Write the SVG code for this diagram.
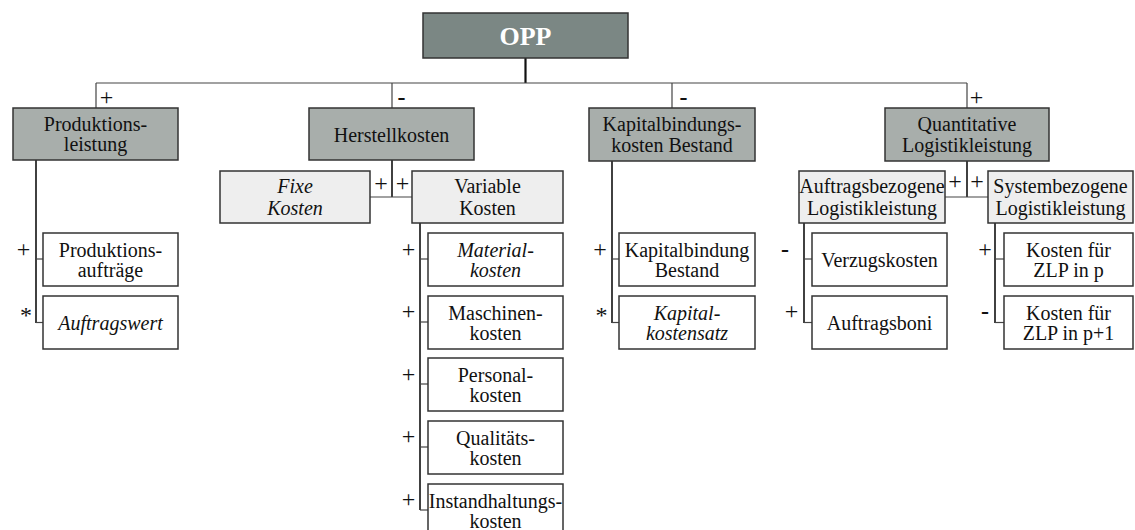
<svg xmlns="http://www.w3.org/2000/svg" width="1135" height="530" viewBox="0 0 1135 530">
  <style>
    text { font-family: "Liberation Serif", "Times New Roman", serif; font-size: 20px; fill: #111; text-anchor: middle; }
    .it { font-style: italic; }
    .root { fill: #7b8784; stroke: #333; stroke-width: 1.5; }
    .l1 { fill: #a8aeab; stroke: #333; stroke-width: 1.5; }
    .l2 { fill: #eeeeee; stroke: #333; stroke-width: 1.5; }
    .leaf { fill: #ffffff; stroke: #333; stroke-width: 1.5; }
    .title { font-size: 26px; font-weight: bold; fill: #ffffff; }
    .stem { stroke: #111; stroke-width: 1.6; fill: none; }
    .br { stroke: #444; stroke-width: 1.2; fill: none; }
    .sg { font-size: 24px; }
    .mn { font-size: 24px; font-weight: bold; }
  </style>

  <!-- connectors -->
  <g id="connectors">
    <line class="stem" x1="525.5" y1="58" x2="525.5" y2="83" style="stroke-width:2.2"/>
    <line class="br" x1="96" y1="83" x2="967" y2="83"/>
    <line class="br" x1="96" y1="83" x2="96" y2="108"/>
    <line class="br" x1="392" y1="83" x2="392" y2="108"/>
    <line class="br" x1="672" y1="83" x2="672" y2="108"/>
    <line class="br" x1="967" y1="83" x2="967" y2="108"/>

    <!-- Produktionsleistung -->
    <line class="stem" x1="36" y1="160" x2="36" y2="323"/>
    <line class="br" x1="36" y1="259" x2="43" y2="259"/>
    <line class="br" x1="36" y1="322.5" x2="43" y2="322.5"/>

    <!-- Herstellkosten -->
    <line class="stem" x1="392" y1="160" x2="392" y2="197"/>
    <line class="br" x1="370" y1="197" x2="412" y2="197"/>

    <!-- Variable Kosten -->
    <line class="stem" x1="420" y1="223" x2="420" y2="510"/>
    <line class="br" x1="420" y1="259" x2="428" y2="259"/>
    <line class="br" x1="420" y1="322" x2="428" y2="322"/>
    <line class="br" x1="420" y1="384" x2="428" y2="384"/>
    <line class="br" x1="420" y1="447" x2="428" y2="447"/>
    <line class="br" x1="420" y1="510" x2="428" y2="510"/>

    <!-- Kapitalbindungskosten -->
    <line class="stem" x1="612" y1="161" x2="612" y2="323"/>
    <line class="br" x1="612" y1="259" x2="619" y2="259"/>
    <line class="br" x1="612" y1="322.5" x2="619" y2="322.5"/>

    <!-- Quantitative Logistikleistung -->
    <line class="stem" x1="967" y1="161" x2="967" y2="197"/>
    <line class="br" x1="945" y1="197" x2="988" y2="197"/>

    <!-- Auftragsbezogene -->
    <line class="stem" x1="804" y1="223" x2="804" y2="323"/>
    <line class="br" x1="804" y1="259" x2="812" y2="259"/>
    <line class="br" x1="804" y1="322.5" x2="812" y2="322.5"/>

    <!-- Systembezogene -->
    <line class="stem" x1="995" y1="223" x2="995" y2="323"/>
    <line class="br" x1="995" y1="259" x2="1004" y2="259"/>
    <line class="br" x1="995" y1="322.5" x2="1004" y2="322.5"/>

    <!-- signs -->
    <text class="sg" x="106.5" y="105">+</text>
    <text class="mn" x="401.5" y="105">-</text>
    <text class="mn" x="683.5" y="105">-</text>
    <text class="sg" x="976.5" y="105">+</text>

    <text class="sg" x="381" y="191">+</text>
    <text class="sg" x="402.5" y="191">+</text>
    <text class="sg" x="955" y="189">+</text>
    <text class="sg" x="977" y="189">+</text>

    <text class="sg" x="23.5" y="257">+</text>
    <text class="sg" x="26" y="323">*</text>

    <text class="sg" x="408.5" y="257">+</text>
    <text class="sg" x="408.5" y="319">+</text>
    <text class="sg" x="408.5" y="382">+</text>
    <text class="sg" x="408.5" y="444">+</text>
    <text class="sg" x="408.5" y="507">+</text>

    <text class="sg" x="600" y="257">+</text>
    <text class="sg" x="601.5" y="323">*</text>

    <text class="mn" x="785" y="257">-</text>
    <text class="sg" x="791.5" y="319">+</text>

    <text class="sg" x="985" y="257">+</text>
    <text class="mn" x="985" y="319">-</text>
  </g>

  <g id="opp">
    <rect class="root" x="423" y="13" width="205" height="45"/>
    <text class="title" x="525.5" y="45">OPP</text>
  </g>

  <g id="produktionsleistung">
    <rect class="l1" x="13" y="108" width="165" height="52"/>
    <text x="95.5" y="131">Produktions-</text>
    <text x="95.5" y="151">leistung</text>
  </g>
  <g id="herstellkosten">
    <rect class="l1" x="309" y="108" width="165" height="52"/>
    <text x="391.5" y="142">Herstellkosten</text>
  </g>
  <g id="kapitalbindungskosten">
    <rect class="l1" x="589" y="108" width="166" height="53"/>
    <text x="672" y="131">Kapitalbindungs-</text>
    <text x="672" y="152">kosten Bestand</text>
  </g>
  <g id="quantitative">
    <rect class="l1" x="885" y="108" width="164" height="53"/>
    <text x="967" y="131">Quantitative</text>
    <text x="967" y="152">Logistikleistung</text>
  </g>

  <g id="fixe-kosten">
    <rect class="l2" x="220" y="171" width="150" height="52"/>
    <text class="it" x="295" y="193">Fixe</text>
    <text class="it" x="295" y="215">Kosten</text>
  </g>
  <g id="variable-kosten">
    <rect class="l2" x="412" y="171" width="151" height="52"/>
    <text x="487.5" y="193">Variable</text>
    <text x="487.5" y="215">Kosten</text>
  </g>
  <g id="auftragsbezogene">
    <rect class="l2" x="799" y="171" width="146" height="52"/>
    <text x="872" y="193">Auftragsbezogene</text>
    <text x="872" y="215">Logistikleistung</text>
  </g>
  <g id="systembezogene">
    <rect class="l2" x="988" y="171" width="145" height="52"/>
    <text x="1060.5" y="193">Systembezogene</text>
    <text x="1060.5" y="215">Logistikleistung</text>
  </g>

  <g id="produktionsauftraege">
    <rect class="leaf" x="43" y="233" width="135" height="53"/>
    <text x="110.5" y="257">Produktions-</text>
    <text x="110.5" y="277">aufträge</text>
  </g>
  <g id="auftragswert">
    <rect class="leaf" x="43" y="296" width="135" height="53"/>
    <text class="it" x="110.5" y="330">Auftragswert</text>
  </g>

  <g id="materialkosten">
    <rect class="leaf" x="428" y="233" width="135" height="53"/>
    <text class="it" x="495.5" y="257">Material-</text>
    <text class="it" x="495.5" y="277">kosten</text>
  </g>
  <g id="maschinenkosten">
    <rect class="leaf" x="428" y="296" width="135" height="53"/>
    <text x="495.5" y="320">Maschinen-</text>
    <text x="495.5" y="340">kosten</text>
  </g>
  <g id="personalkosten">
    <rect class="leaf" x="428" y="358" width="135" height="53"/>
    <text x="495.5" y="382">Personal-</text>
    <text x="495.5" y="402">kosten</text>
  </g>
  <g id="qualitaetskosten">
    <rect class="leaf" x="428" y="421" width="135" height="53"/>
    <text x="495.5" y="445">Qualitäts-</text>
    <text x="495.5" y="465">kosten</text>
  </g>
  <g id="instandhaltungskosten">
    <rect class="leaf" x="428" y="484" width="135" height="53"/>
    <text x="495.5" y="508">Instandhaltungs-</text>
    <text x="495.5" y="528">kosten</text>
  </g>

  <g id="kapitalbindung-bestand">
    <rect class="leaf" x="619" y="233" width="136" height="53"/>
    <text x="687" y="257">Kapitalbindung</text>
    <text x="687" y="277">Bestand</text>
  </g>
  <g id="kapitalkostensatz">
    <rect class="leaf" x="619" y="296" width="136" height="53"/>
    <text class="it" x="687" y="320">Kapital-</text>
    <text class="it" x="687" y="340">kostensatz</text>
  </g>

  <g id="verzugskosten">
    <rect class="leaf" x="812" y="233" width="135" height="53"/>
    <text x="879.5" y="267">Verzugskosten</text>
  </g>
  <g id="auftragsboni">
    <rect class="leaf" x="812" y="296" width="135" height="53"/>
    <text x="879.5" y="330">Auftragsboni</text>
  </g>

  <g id="zlp-p">
    <rect class="leaf" x="1004" y="233" width="129" height="53"/>
    <text x="1068.5" y="257">Kosten für</text>
    <text x="1068.5" y="277">ZLP in p</text>
  </g>
  <g id="zlp-p1">
    <rect class="leaf" x="1004" y="296" width="129" height="53"/>
    <text x="1068.5" y="320">Kosten für</text>
    <text x="1068.5" y="340">ZLP in p+1</text>
  </g>
</svg>
